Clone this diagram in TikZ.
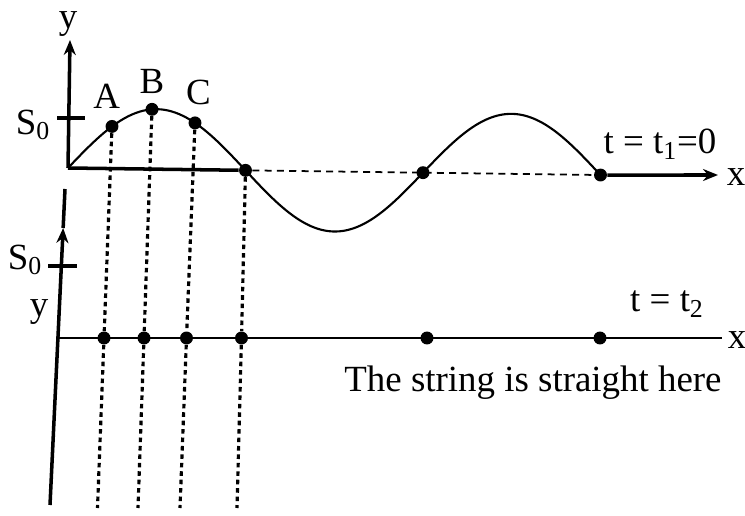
\documentclass[tikz,border=0pt]{standalone}
\usepackage{fontspec}
\setmainfont{Liberation Serif}
\usetikzlibrary{arrows.meta, calc, positioning}
\tikzset{
  axisline/.style  = {line width=2pt, black},
  axisarrow/.style = {axisline, -{Stealth[length=3mm, width=2.4mm]}},
  wave/.style      = {line width=1.2pt, black},
  dropline/.style  = {line width=1.8pt, dash pattern=on 2.6pt off 2.2pt},
  gapline/.style   = {line width=1pt, dash pattern=on 4pt off 3pt},
  ptdot/.style     = {circle, fill=black, inner sep=2.6pt},
  lbl/.style       = {font=\fontsize{21}{24}\selectfont, inner sep=1pt},
}

\begin{document}
\begin{tikzpicture}
\useasboundingbox (0,0) rectangle (14.9,10.3);
\newcommand{\wv}[1]{6.94-0.0132*(#1-1.36)+1.2*sin(180*(#1-1.36)/3.55)}
% t = t1 = 0
\coordinate (O1) at (1.36,6.94);
\coordinate (ytip1) at (1.40,9.50);
\coordinate (xtip1) at (14.36,6.80);
\draw[wave] plot[domain=1.36:12.01, samples=150] (\x, {\wv{\x}});
\node[ptdot] (A) at (2.24,{\wv{2.24}}) {};
\node[ptdot] (B) at (3.04,{\wv{3.04}}) {};
\node[ptdot] (C) at (3.90,{\wv{3.90}}) {};
\node[ptdot] (Z1) at (4.91,{\wv{4.91}}) {};
\node[ptdot] (Z2) at (8.46,{\wv{8.46}}) {};
\node[ptdot] (Z3) at (12.01,{\wv{12.01}}) {};
\draw[axisarrow] (O1) -- (ytip1);
\draw[axisline] (O1) -- (Z1);
\draw[gapline] (Z1) -- (Z3);
\draw[axisarrow] (Z3) -- (xtip1);
\draw[axisline] ($(O1)+(-0.22,1.0)$) -- ++(0.56,0);
\node[lbl] (ylab1) at (1.36,9.82) {y};
\node[lbl] (xlab1) at (14.72,6.76) {x};
\node[lbl] (slab1) at (0.66,7.80) {S\textsubscript{0}};
\node[lbl, above=5pt of A, xshift=-3pt] (Alab) {A};
\node[lbl, above=4pt of B] (Blab) {B};
\node[lbl, above=5pt of C, xshift=2pt] (Clab) {C};
\node[lbl] (tlab1) at (13.20,7.42) {t = t\textsubscript{1}=0};
% t = t2
\coordinate (yb0) at (1.00,0.20);
\coordinate (yarr) at (1.263,5.74);
\coordinate (ytop2) at (1.30,6.52);
\coordinate (xb0) at (1.16,3.54);
\coordinate (xend2) at (14.44,3.54);
\draw[axisarrow] (yb0) -- (yarr);
\draw[axisline] (yarr) -- (ytop2);
\draw[axisline] (0.96,4.98) -- (1.54,4.98);
\draw[line width=1.3pt] (xb0) -- (xend2);
\node[ptdot] (A2) at (2.08,3.54) {};
\node[ptdot] (B2) at (2.88,3.54) {};
\node[ptdot] (C2) at (3.73,3.54) {};
\node[ptdot] (Z12) at (4.83,3.54) {};
\node[ptdot] (Z22) at (8.54,3.54) {};
\node[ptdot] (Z32) at (12.00,3.54) {};
\coordinate (Aend) at (1.95,0.14);
\coordinate (Bend) at (2.76,0.14);
\coordinate (Cend) at (3.60,0.14);
\coordinate (Z1end) at (4.74,0.14);
\draw[dropline] (A) -- (A2) -- (Aend);
\draw[dropline] (B) -- (B2) -- (Bend);
\draw[dropline] (C) -- (C2) -- (Cend);
\draw[dropline] (Z1) -- (Z12) -- (Z1end);
\node[lbl] (ylab2) at (0.78,4.06) {y};
\node[lbl] (slab2) at (0.50,5.10) {S\textsubscript{0}};
\node[lbl] (xlab2) at (14.74,3.50) {x};
\node[lbl] (tlab2) at (13.34,4.22) {t = t\textsubscript{2}};
\node[lbl] (note) at (10.66,2.64) {The string is straight here};
\end{tikzpicture}
\end{document}
